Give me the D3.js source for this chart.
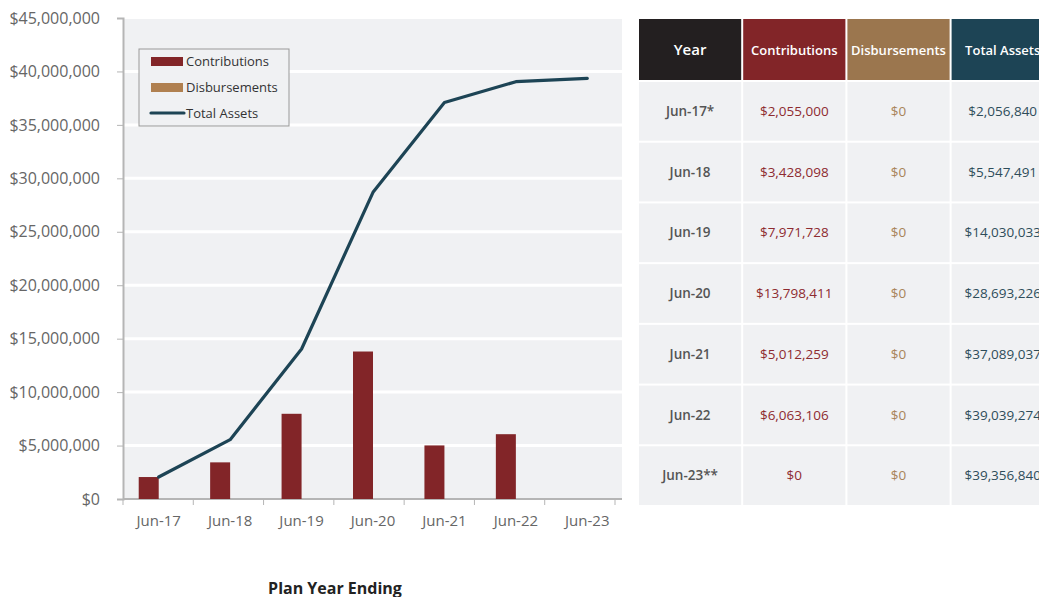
<!DOCTYPE html>
<html>
<head>
<meta charset="utf-8">
<script src="https://cdn.jsdelivr.net/npm/d3@7"></script>
<style>
  body { margin: 0; background: #fff; font-family: "Open Sans", sans-serif; }
  svg { display: block; }
</style>
</head>
<body>
<div id="chart"></div>
<script>
// ---------------------------------------
// data
const years = ["Jun-17", "Jun-18", "Jun-19", "Jun-20", "Jun-21", "Jun-22", "Jun-23"];
const yearLabels = ["Jun-17*", "Jun-18", "Jun-19", "Jun-20", "Jun-21", "Jun-22", "Jun-23**"];
const contributions = [2055000, 3428098, 7971728, 13798411, 5012259, 6063106, 0];
const disbursements = [0, 0, 0, 0, 0, 0, 0];
const totalAssets = [2056840, 5547491, 14030033, 28693226, 37089037, 39039274, 39356840];
const yTicks = [0, 5e6, 10e6, 15e6, 20e6, 25e6, 30e6, 35e6, 40e6, 45e6];
const columns = ["Year", "Contributions", "Disbursements", "Total Assets"];

// colours
const cContrib = "#822528";
const cDisb = "#b08050";
const cTotal = "#1d4455";
const headColors = ["#231f20", "#822528", "#9b764e", "#1d4455"];
const cellText = ["#555", "#8e2b30", "#a8845a", "#2e4d5a"];

const money = d => "$" + d3.format(",")(d);

const svg = d3.select("#chart")
    .append("svg")
    .attr("width", 1039)
    .attr("height", 597);

// ---------------------------------------
// scales
const plot = {left: 123, right: 622, top: 19, bottom: 499};

const x = d3.scaleBand()
    .domain(years)
    .range([plot.left, 623])
    .padding(0);

// tick marks under the axis sit on a slightly tighter spacing
const xTick = d3.scalePoint()
    .domain(d3.range(years.length + 1))
    .range([plot.left, 615]);

const y = d3.scaleLinear()
    .domain([0, 45e6])
    .range([plot.bottom, 18]);

// plot background
svg.append("rect")
    .attr("x", plot.left)
    .attr("y", plot.top)
    .attr("width", plot.right - plot.left)
    .attr("height", plot.bottom - plot.top)
    .attr("fill", "#f0f1f3");

// gridlines
svg.append("g")
    .selectAll("line")
    .data(yTicks.filter(d => d > 0 && d < 45e6))
    .enter()
    .append("line")
    .attr("x1", plot.left)
    .attr("x2", plot.right)
    .attr("y1", d => y(d))
    .attr("y2", d => y(d))
    .attr("stroke", "#fff")
    .attr("stroke-width", 3);

// y axis
const yAxis = svg.append("g")
    .attr("transform", `translate(${plot.left},0)`)
    .call(d3.axisLeft(y).tickValues(yTicks).tickFormat(money).tickSize(6).tickPadding(17));
yAxis.select(".domain").attr("stroke", "#b5b5b5").attr("stroke-width", 2);
yAxis.selectAll(".tick line").attr("stroke", "#b5b5b5");
yAxis.selectAll("text")
    .attr("fill", "#666")
    .style("font-family", "Open Sans")
    .style("font-size", "16px");

// x axis
const xAxis = svg.append("g")
    .attr("transform", `translate(0,${plot.bottom})`)
    .call(d3.axisBottom(x).tickSize(0).tickPadding(16));
xAxis.select(".domain")
    .attr("d", `M${plot.left},0H${plot.right}`)
    .attr("stroke", "#b5b5b5").attr("stroke-width", 2);
xAxis.selectAll("text")
    .attr("fill", "#666")
    .style("font-family", "Open Sans")
    .style("font-size", "15px");
xAxis.selectAll(".bt")
    .data(xTick.domain())
    .enter()
    .append("line")
    .attr("class", "bt")
    .attr("x1", d => xTick(d))
    .attr("x2", d => xTick(d))
    .attr("y1", 0)
    .attr("y2", 6)
    .attr("stroke", "#b5b5b5");

// ---------------------------------------
// bars
const barW = 20;
svg.append("g")
    .selectAll("rect")
    .data(contributions)
    .enter()
    .append("rect")
    .attr("x", (d, i) => x(years[i]) + x.bandwidth() / 2 - barW)
    .attr("y", d => y(d))
    .attr("width", barW)
    .attr("height", d => y(0) - y(d))
    .attr("fill", cContrib);

svg.append("g")
    .selectAll("rect")
    .data(disbursements)
    .enter()
    .append("rect")
    .attr("x", (d, i) => x(years[i]) + x.bandwidth() / 2)
    .attr("y", d => y(d))
    .attr("width", barW)
    .attr("height", d => y(0) - y(d))
    .attr("fill", cDisb);

// total assets line
const line = d3.line()
    .x((d, i) => x(years[i]) + x.bandwidth() / 2)
    .y(d => y(d));

svg.append("path")
    .datum(totalAssets)
    .attr("d", line)
    .attr("fill", "none")
    .attr("stroke", cTotal)
    .attr("stroke-width", 3.2)
    .attr("stroke-linejoin", "round")
    .attr("stroke-linecap", "round");

// ---------------------------------------
// legend
const legend = svg.append("g").attr("transform", "translate(139,49)");
legend.append("rect")
    .attr("width", 150)
    .attr("height", 77)
    .attr("fill", "#f0f1f3")
    .attr("stroke", "#999");

const legendItems = [
  {name: "Contributions", color: cContrib, type: "bar"},
  {name: "Disbursements", color: cDisb, type: "bar"},
  {name: "Total Assets", color: cTotal, type: "line"}
];
const li = legend.selectAll(".li")
    .data(legendItems)
    .enter()
    .append("g")
    .attr("class", "li")
    .attr("transform", (d, i) => `translate(0,${12 + i * 26})`);
li.filter(d => d.type === "bar")
    .append("rect")
    .attr("x", 12)
    .attr("y", -4)
    .attr("width", 32)
    .attr("height", 9)
    .attr("fill", d => d.color);
li.filter(d => d.type === "line")
    .append("line")
    .attr("x1", 12)
    .attr("x2", 45)
    .attr("y1", 0)
    .attr("y2", 0)
    .attr("stroke", d => d.color)
    .attr("stroke-width", 3.2)
    .attr("stroke-linecap", "round");
li.append("text")
    .attr("x", 47)
    .attr("y", 5)
    .attr("fill", "#333")
    .style("font-size", "13px")
    .text(d => d.name);

// axis title
svg.append("text")
    .attr("x", 335)
    .attr("y", 594)
    .attr("text-anchor", "middle")
    .attr("fill", "#222")
    .style("font-size", "16px")
    .style("font-weight", "bold")
    .text("Plan Year Ending");

// ---------------------------------------
// table
const col = d3.scaleBand()
    .domain(columns)
    .range([639, 639 + 4 * 103.7])
    .paddingInner(2 / 103.7)
    .paddingOuter(0);

const row = d3.scaleBand()
    .domain(years)
    .range([82, 505])
    .paddingInner(2 / 60.4)
    .paddingOuter(0);

const table = svg.append("g");

// header
const head = table.selectAll(".head")
    .data(columns)
    .enter()
    .append("g")
    .attr("class", "head");
head.append("rect")
    .attr("x", d => col(d))
    .attr("y", 19)
    .attr("width", col.bandwidth())
    .attr("height", 61)
    .attr("fill", (d, i) => headColors[i]);
head.append("text")
    .attr("x", d => col(d) + col.bandwidth() / 2)
    .attr("y", 50)
    .attr("dy", "0.35em")
    .attr("text-anchor", "middle")
    .attr("fill", "#fff")
    .style("font-size", (d, i) => i === 0 ? "15px" : "13px")
    .style("font-weight", 600)
    .text(d => d);

// body rows
const rowData = years.map((yr, i) => [yearLabels[i], money(contributions[i]), money(disbursements[i]), money(totalAssets[i])]);

const rows = table.selectAll(".row")
    .data(rowData)
    .enter()
    .append("g")
    .attr("class", "row")
    .attr("transform", (d, i) => `translate(0,${row(years[i])})`);

const cells = rows.selectAll(".cell")
    .data(d => d)
    .enter()
    .append("g")
    .attr("class", "cell");
cells.append("rect")
    .attr("x", (d, j) => col(columns[j]))
    .attr("width", col.bandwidth())
    .attr("height", row.bandwidth())
    .attr("fill", "#f0f1f3");
cells.append("text")
    .attr("x", (d, j) => col(columns[j]) + col.bandwidth() / 2)
    .attr("y", row.bandwidth() / 2)
    .attr("dy", "0.35em")
    .attr("text-anchor", "middle")
    .attr("fill", (d, j) => cellText[j])
    .style("font-size", "13.5px")
    .style("font-weight", (d, j) => j === 0 ? 600 : 400)
    .text(d => d);
</script>
</body>
</html>
